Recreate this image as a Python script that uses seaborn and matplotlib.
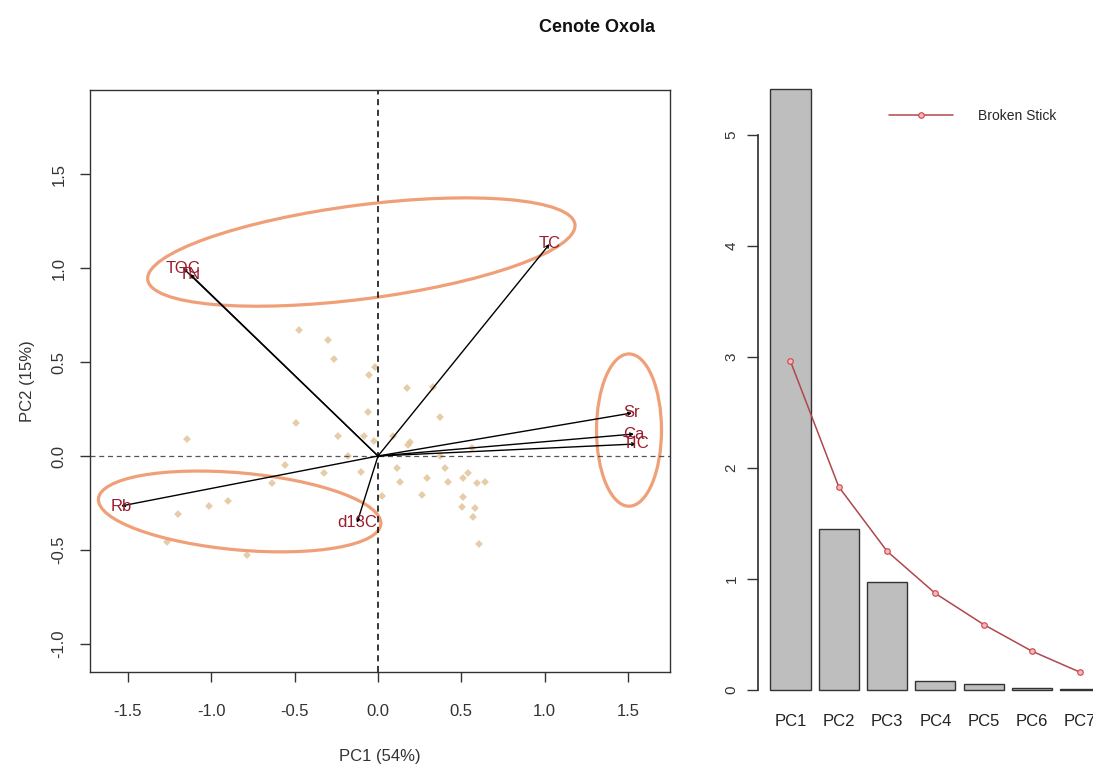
import numpy as np
import pandas as pd
import matplotlib
matplotlib.use("Agg")
import matplotlib.pyplot as plt
import seaborn as sns
from matplotlib.patches import Ellipse

# PCA scores (sample points)
pc1_scores = [-0.474, -0.300, -0.264, -0.018, -0.054, -0.060, -0.492, -0.240, -0.084, -0.024,
              -1.146, -0.180, -0.558, -0.324, -0.102, -0.636, -1.014, -0.900, -1.200, 0.024,
              -1.266, -0.786, 0.174, 0.330, 0.372, 0.090, 0.192, 0.180, 0.564, 0.372,
              0.114, 0.402, 0.132, 0.294, 0.420, 0.510, 0.540, 0.594, 0.642, 0.264,
              0.510, 0.504, 0.582, 0.570, 0.606]
pc2_scores = [0.670, 0.617, 0.516, 0.473, 0.431, 0.234, 0.176, 0.106, 0.106, 0.080,
              0.090, 0.000, -0.048, -0.090, -0.085, -0.144, -0.266, -0.239, -0.309, -0.213,
              -0.457, -0.527, 0.362, 0.367, 0.207, 0.106, 0.074, 0.059, 0.043, 0.000,
              -0.064, -0.064, -0.138, -0.117, -0.138, -0.117, -0.090, -0.144, -0.138, -0.207,
              -0.218, -0.271, -0.277, -0.324, -0.468]

# variable loadings
variables = ["TOC", "TN", "TC", "Sr", "Ca", "TIC", "Rb", "d13C"]
load_pc1 = [-1.17, -1.128, 1.03, 1.524, 1.536, 1.548, -1.542, -0.126]
load_pc2 = [1.00, 0.968, 1.128, 0.229, 0.117, 0.064, -0.266, -0.356]

# scree plot
components = ["PC1", "PC2", "PC3", "PC4", "PC5", "PC6", "PC7"]
eigenvalues = [5.41, 1.45, 0.97, 0.08, 0.055, 0.02, 0.01]
broken_stick = [2.96, 1.83, 1.25, 0.87, 0.59, 0.35, 0.16]

sns.set_theme(style="ticks")
plt.rcParams["font.family"] = ["Liberation Sans Narrow", "Liberation Sans", "DejaVu Sans"]

W, H = 1093, 764
fig = plt.figure(figsize=(W / 100, H / 100), dpi=100)

# %% biplot
ax = fig.add_axes([90 / W, 1 - 672 / H, 580 / W, 582 / H])
scores = pd.DataFrame({"PC1": pc1_scores, "PC2": pc2_scores})
sns.scatterplot(data=scores, x="PC1", y="PC2", marker="D", s=16, color="#E2C49A",
                edgecolor="none", alpha=0.85, ax=ax)
ax.axvline(0, color="black", ls=(0, (4, 3)), lw=1.1)
ax.axhline(0, color="#555555", ls=(0, (4, 3)), lw=0.9)

for v, x, y in zip(variables, load_pc1, load_pc2):
    ax.annotate("", xy=(x, y), xytext=(0, 0),
                arrowprops=dict(arrowstyle="->", color="black", lw=1, mutation_scale=5,
                                shrinkA=0, shrinkB=0))
    ax.text(x, y, v, color="#9B1C2C", fontsize=12, ha="center", va="center")

ell_col = "#F0A078"
ax.add_patch(Ellipse((-0.10, 1.085), 2.58, 0.50, angle=6.5, fill=False, ec=ell_col, lw=2.3))
ax.add_patch(Ellipse((-0.83, -0.295), 1.70, 0.41, angle=-4.5, fill=False, ec=ell_col, lw=2.3))
ax.add_patch(Ellipse((1.506, 0.138), 0.39, 0.81, angle=0, fill=False, ec=ell_col, lw=2.3))

ax.set_xlim(-1.728, 1.752)
ax.set_ylim(-1.149, 1.947)
ax.set_xticks([-1.5, -1.0, -0.5, 0.0, 0.5, 1.0, 1.5])
ax.set_yticks([-1.0, -0.5, 0.0, 0.5, 1.0, 1.5])
ax.set_xticklabels(["-1.5", "-1.0", "-0.5", "0.0", "0.5", "1.0", "1.5"])
ax.set_yticklabels(["-1.0", "-0.5", "0.0", "0.5", "1.0", "1.5"])
ax.tick_params(axis="x", labelsize=12, length=7, width=1, color="#333333", pad=16,
               labelcolor="#333333")
ax.tick_params(axis="y", labelsize=12, length=7, width=1, color="#333333", pad=10,
               labelcolor="#333333")
for lab in ax.get_yticklabels():
    lab.set_rotation(90)
    lab.set_va("center")
for s in ax.spines.values():
    s.set_color("#333333")
    s.set_linewidth(1)
ax.set_xlabel("PC1 (54%)", fontsize=12, color="#333333", labelpad=22)
ax.set_ylabel("PC2 (15%)", fontsize=12, color="#333333", labelpad=12)

# %% scree plot with broken stick
ax2 = fig.add_axes([758 / W, 1 - 714 / H, 356 / W, 648 / H])
sns.barplot(x=components, y=eigenvalues, color="#BEBEBE", saturation=1, width=0.833,
            edgecolor="#333333", linewidth=1, ax=ax2)
sns.pointplot(x=components, y=broken_stick, color="#B0474C", markers="o", linestyles="-",
              markersize=4, linewidth=1.1, markerfacecolor="#F3BABA",
              markeredgecolor="#D0474C", label="Broken Stick", ax=ax2)
ax2.set_xlim(-0.673, 6.7)
ax2.set_ylim(-0.216, 5.62)
ax2.set_yticks([0, 1, 2, 3, 4, 5])
ax2.set_yticklabels(["0", "1", "2", "3", "4", "5"])
sns.despine(ax=ax2, bottom=True, right=True, top=True)
ax2.spines["left"].set_bounds(0, 5)
ax2.spines["left"].set_color("#333333")
ax2.tick_params(axis="y", labelsize=11, length=8, width=1, color="#333333", pad=6,
                labelcolor="#333333")
for lab in ax2.get_yticklabels():
    lab.set_rotation(90)
    lab.set_va("center")
ax2.tick_params(axis="x", length=0, labelsize=12, pad=0, labelcolor="#222222")
ax2.set_xlabel("")
ax2.set_ylabel("")
ax2.legend(loc="center left", bbox_to_anchor=(882 / W, 1 - 116 / H),
           bbox_transform=fig.transFigure, frameon=False, fontsize=10,
           handlelength=4.6, handletextpad=1.8, borderpad=0)

fig.text(597 / W, 1 - 27 / H, "Cenote Oxola", ha="center", va="center",
         fontsize=13, fontweight="bold", color="#111111")

fig.savefig("out.png", dpi=100)
